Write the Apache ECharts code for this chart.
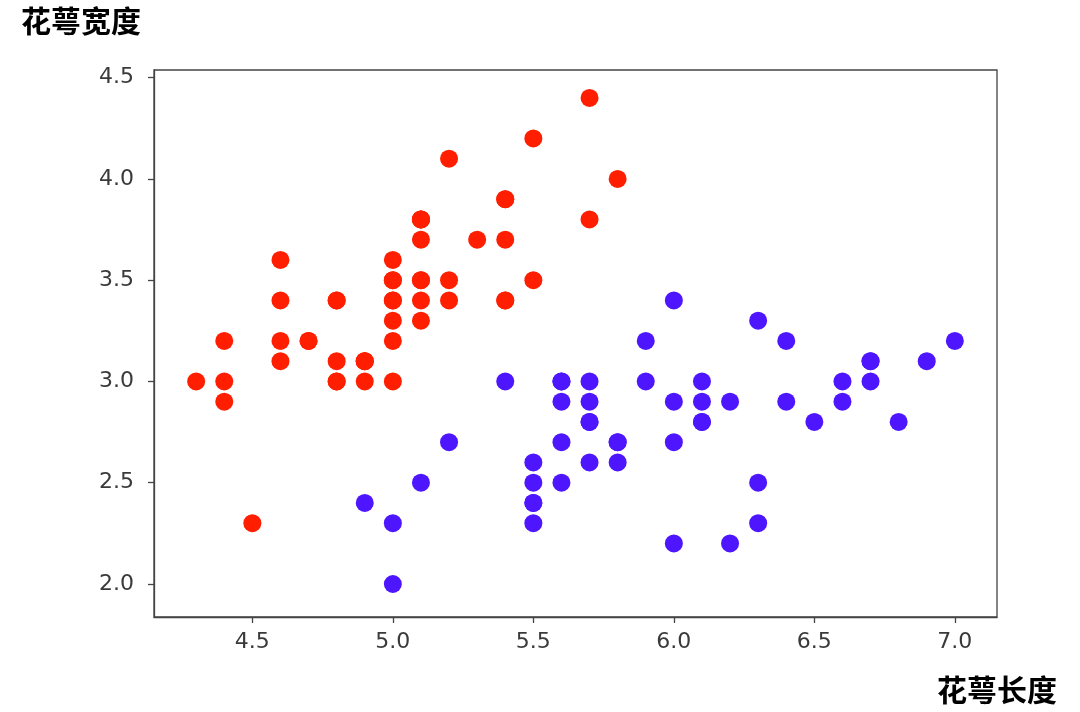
<!DOCTYPE html>
<html>
<head>
<meta charset="utf-8">
<script src="https://cdn.jsdelivr.net/npm/echarts@6/dist/echarts.min.js"></script>
<style>html,body{margin:0;padding:0;background:#fff}#c{width:1080px;height:712px}</style>
</head>
<body>
<div id="c"></div>
<script>
const xName = '花萼长度';
const yName = '花萼宽度';
const xTicks = [4.5, 5.0, 5.5, 6.0, 6.5, 7.0];
const yTicks = [2.0, 2.5, 3.0, 3.5, 4.0, 4.5];
const setosaX = [5.1,4.9,4.7,4.6,5.0,5.4,4.6,5.0,4.4,4.9,5.4,4.8,4.8,4.3,5.8,5.7,5.4,5.1,5.7,5.1,5.4,5.1,4.6,5.1,4.8,5.0,5.0,5.2,5.2,4.7,4.8,5.4,5.2,5.5,4.9,5.0,5.5,4.9,4.4,5.1,5.0,4.5,4.4,5.0,5.1,4.8,5.1,4.6,5.3,5.0];
const setosaY = [3.5,3.0,3.2,3.1,3.6,3.9,3.4,3.4,2.9,3.1,3.7,3.4,3.0,3.0,4.0,4.4,3.9,3.5,3.8,3.8,3.4,3.7,3.6,3.3,3.4,3.0,3.4,3.5,3.4,3.2,3.1,3.4,4.1,4.2,3.1,3.2,3.5,3.1,3.0,3.4,3.5,2.3,3.2,3.5,3.8,3.0,3.8,3.2,3.7,3.3];
const versicolorX = [7.0,6.4,6.9,5.5,6.5,5.7,6.3,4.9,6.6,5.2,5.0,5.9,6.0,6.1,5.6,6.7,5.6,5.8,6.2,5.6,5.9,6.1,6.3,6.1,6.4,6.6,6.8,6.7,6.0,5.7,5.5,5.5,5.8,6.0,5.4,6.0,6.7,6.3,5.6,5.5,5.5,6.1,5.8,5.0,5.6,5.7,5.7,6.2,5.1,5.7];
const versicolorY = [3.2,3.2,3.1,2.3,2.8,2.8,3.3,2.4,2.9,2.7,2.0,3.0,2.2,2.9,2.9,3.1,3.0,2.7,2.2,2.5,3.2,2.8,2.5,2.8,2.9,3.0,2.8,3.0,2.9,2.6,2.4,2.4,2.7,2.7,3.0,3.4,3.1,2.3,3.0,2.5,2.6,3.0,2.6,2.3,2.7,3.0,2.9,2.9,2.5,2.8];

const pairs = (xs, ys) => xs.map((x, i) => [x, ys[i]]);
const tickFont = {fontFamily: 'DejaVu Sans', fontSize: 22, color: '#3a3a3a'};

const chart = echarts.init(document.getElementById('c'), null, {renderer: 'canvas'});
chart.setOption({
  animation: false,
  backgroundColor: '#fff',
  grid: {left: 154, right: 83, top: 70, bottom: 95, show: true, borderColor: '#444', borderWidth: 1.3, containLabel: false},
  xAxis: {
    type: 'value', min: 4.15, max: 7.15,
    splitLine: {show: false},
    axisLine: {show: true, lineStyle: {color: '#444', width: 1.3}},
    axisTick: {show: true, length: 6, lineStyle: {color: '#444', width: 1.3}, customValues: xTicks},
    axisLabel: Object.assign({margin: 14, customValues: xTicks, formatter: v => v.toFixed(1)}, tickFont)
  },
  yAxis: {
    type: 'value', min: 1.837, max: 4.538,
    splitLine: {show: false},
    axisLine: {show: true, lineStyle: {color: '#444', width: 1.3}},
    axisTick: {show: true, length: 6, lineStyle: {color: '#444', width: 1.3}, customValues: yTicks},
    axisLabel: Object.assign({margin: 20, customValues: yTicks, formatter: v => v.toFixed(1)}, tickFont)
  },
  series: [
    {type: 'scatter', name: 'setosa', data: pairs(setosaX, setosaY), symbolSize: 18, itemStyle: {color: '#ff1e00', opacity: 1}},
    {type: 'scatter', name: 'versicolor', data: pairs(versicolorX, versicolorY), symbolSize: 18, itemStyle: {color: '#4d16ff', opacity: 1}}
  ],
  graphic: [
    {type: 'text', left: 21, top: 6, style: {text: yName, font: 'bold 30px "Noto Sans CJK SC"', fill: '#000'}},
    {type: 'text', right: 23, top: 675, style: {text: xName, font: 'bold 30px "Noto Sans CJK SC"', fill: '#000'}}
  ]
});
</script>
</body>
</html>
